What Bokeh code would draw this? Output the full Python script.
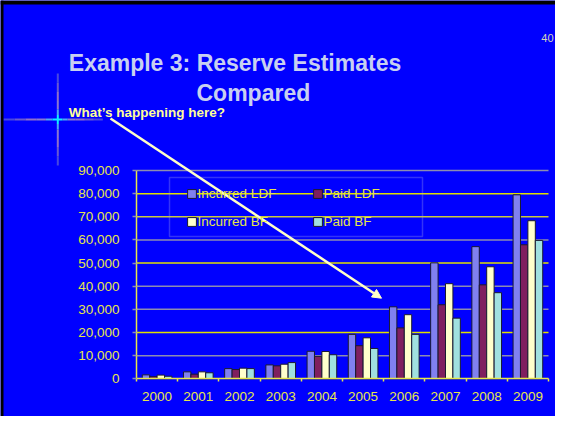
from bokeh.plotting import figure
from bokeh.models import (FixedTicker, NumeralTickFormatter, Label, Legend, LegendItem,
                          BoxAnnotation, Arrow, NormalHead, ColumnDataSource, LinearAxis)
from bokeh.embed import file_html
from bokeh.resources import INLINE

# ---- data ----
years = ["2000", "2001", "2002", "2003", "2004", "2005", "2006", "2007", "2008", "2009"]
incurred_ldf = [1700, 3000, 4400, 6000, 11900, 19200, 31100, 50100, 57100, 79500]
paid_ldf = [900, 2000, 4000, 5600, 9700, 14300, 22000, 32000, 40600, 57900]
incurred_bf = [1600, 3000, 4600, 6300, 11800, 17700, 27700, 41100, 48400, 68300]
paid_bf = [1100, 2600, 4400, 7000, 10400, 13100, 19200, 26200, 37200, 59800]
series_names = ["Incurred LDF", "Paid LDF", "Incurred BF", "Paid BF"]
y_ticks = [0, 10000, 20000, 30000, 40000, 50000, 60000, 70000, 80000, 90000]
y_max = 90000

# ---- styles ----
W, H = 555, 416
BLUE = "#0000ff"
YELLOW = "#e6e64a"
series_colors = ["#8080f0", "#7f1f5f", "#ffffcc", "#a0e0e0"]
grid_colors = ["#8c8cb0", "#e0e000", "#8c8cb0", "#8c8cb0", "#e0e000",
               "#8c8cb0", "#c8c840", "#e0e000", "#8c8cb0"]
FONT = "Liberation Sans"

# chart area in canvas pixels (frame covers whole canvas; axes sit at fixed locations)
PL, PR, PT, PB = 136, 548, 170, 378.3
n = len(years)
xpp = n / (PR - PL)
ypp = y_max / (PB - PT)
x_rng = (-PL * xpp, n + (W - PR) * xpp)
y_rng = (-(H - PB) * ypp, y_max + PT * ypp)

p = figure(width=W, height=H, output_backend="svg", toolbar_location=None,
           x_range=x_rng, y_range=y_rng, x_axis_location=None, y_axis_location=None,
           min_border=0)
p.background_fill_color = BLUE
p.border_fill_color = BLUE
p.outline_line_color = None
p.xgrid.grid_line_color = None
p.ygrid.grid_line_color = None

# slide edge (black rim at left and top)
p.add_layout(BoxAnnotation(left=0, right=3, bottom=0, top=H, left_units="screen", right_units="screen",
                           top_units="screen", bottom_units="screen", fill_color="black",
                           fill_alpha=1, line_alpha=0))
p.add_layout(BoxAnnotation(left=0, right=W, bottom=H - 4, top=H, left_units="screen", right_units="screen",
                           top_units="screen", bottom_units="screen", fill_color="black",
                           fill_alpha=1, line_alpha=0))

# grid lines at tick values
p.segment(x0=0, x1=n, y0=y_ticks[1:], y1=y_ticks[1:], line_color=grid_colors, line_width=1.5)

# bars
bw = 0.18
offsets = [-1.5 * bw, -0.5 * bw, 0.5 * bw, 1.5 * bw]
centers = [i + 0.5 for i in range(n)]
renderers = []
for vals, off, col in zip([incurred_ldf, paid_ldf, incurred_bf, paid_bf], offsets, series_colors):
    src = ColumnDataSource(dict(x=[c + off for c in centers], top=vals))
    r = p.vbar(x="x", top="top", width=bw, source=src, fill_color=col,
               line_color="#1a1a30", line_width=1)
    renderers.append(r)

# y axis
yax = LinearAxis(fixed_location=0, bounds=(0, y_max))
yax.ticker = FixedTicker(ticks=y_ticks)
yax.formatter = NumeralTickFormatter(format="0,0")
yax.axis_line_color = YELLOW
yax.axis_line_width = 1.5
yax.major_tick_line_color = "#8c8cb0"
yax.major_tick_line_width = 1.5
yax.major_tick_out = 4
yax.major_tick_in = 0
yax.minor_tick_line_color = None
yax.major_label_standoff = 13
yax.major_label_text_color = YELLOW
yax.major_label_text_font = FONT
yax.major_label_text_font_size = "13.5px"
p.add_layout(yax, "left")

# x axis: labels at group centres, ticks at group boundaries
xax = LinearAxis(fixed_location=0, bounds=(0, n))
xax.ticker = FixedTicker(ticks=centers, minor_ticks=list(range(n + 1)))
xax.major_label_overrides = {c: y for c, y in zip(centers, years)}
xax.axis_line_color = YELLOW
xax.axis_line_width = 1.5
xax.major_tick_line_color = None
xax.major_tick_out = 0
xax.major_tick_in = 0
xax.minor_tick_line_color = YELLOW
xax.minor_tick_line_width = 1.5
xax.minor_tick_out = 3
xax.minor_tick_in = 0
xax.major_label_standoff = 10
xax.major_label_text_color = YELLOW
xax.major_label_text_font = FONT
xax.major_label_text_font_size = "13.5px"
p.add_layout(xax, "below")

# legend
order = [0, 2, 1, 3]
legend = Legend(items=[LegendItem(label=series_names[i], renderers=[renderers[i]]) for i in order],
                orientation="vertical", nrows=2, ncols=2,
                location=(177.6, 179), background_fill_alpha=0, border_line_alpha=0,
                glyph_width=11, glyph_height=11, label_standoff=1, label_height=14,
                label_width=101, spacing=13, padding=8, margin=0,
                label_text_font=FONT, label_text_font_size="13.5px", label_text_color=YELLOW)
p.add_layout(legend, "center")
p.add_layout(BoxAnnotation(left=169, right=422, top=H - 177, bottom=H - 236,
                           left_units="screen", right_units="screen",
                           top_units="screen", bottom_units="screen",
                           fill_alpha=0, line_color="#a8a8e8", line_width=1.5))

# texts (screen units from canvas bottom-left)
def lab(x, y, text, size, color, bold=True, align="left"):
    p.add_layout(Label(x=x, y=H - y, x_units="screen", y_units="screen", text=text,
                       text_font=FONT, text_font_size=size, text_color=color,
                       text_font_style="bold" if bold else "normal",
                       text_align=align, text_baseline="alphabetic"))

lab(68.3, 62.3, "Example 3: Reserve Estimates", "23px", "#c8d0f0")
lab(196, 92, "Compared", "23px", "#c8d0f0")
lab(68.3, 111.7, "What\u2019s happening here?", "13.5px", "#ffff99")
lab(553, 37, "40", "11px", "#d4d4b8", bold=False, align="right")

# decorative cross (gradient arms)
def seg(x0, y0, x1, y1, c, w=2):
    p.add_layout(Arrow(x_start=x0, y_start=H - y0, x_end=x1, y_end=H - y1, start_units="screen",
                       end_units="screen", end=None, line_color=c, line_width=w))

cx, cy = 57.3, 119
arm_cols = ["#4848e0", "#6a5ad0", "#9070c8", "#8a78d0", "#50a8f0", "#10f0ff"]
fr = [1.0, 0.8, 0.6, 0.4, 0.22, 0.1, 0.0]
for (dx, dy, L) in [(-1, 0, 54), (1, 0, 45), (0, -1, 46), (0, 1, 46)]:
    for i, c in enumerate(arm_cols):
        a, b = fr[i] * L, fr[i + 1] * L
        seg(cx + dx * a, cy + dy * a, cx + dx * b, cy + dy * b, c)

# pointing arrow
p.add_layout(Arrow(x_start=110, y_start=H - 118, x_end=381, y_end=H - 297.7, start_units="screen",
                   end_units="screen", line_color="#ffffc8", line_width=2.5,
                   end=NormalHead(size=9, fill_color="#ffffc8", line_color="#ffffc8")))

open("out.html", "w").write(file_html(p, INLINE))
